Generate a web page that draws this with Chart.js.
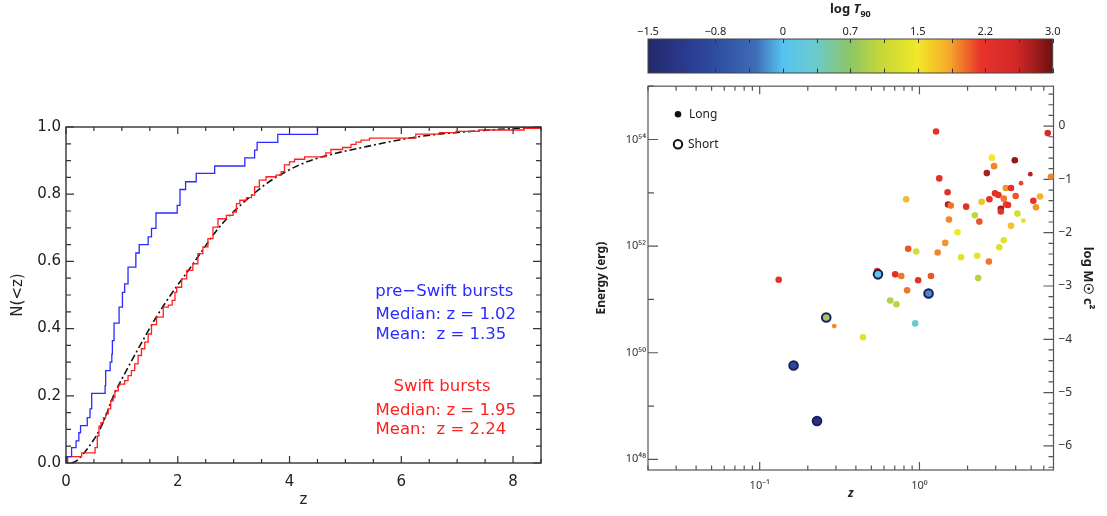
<!DOCTYPE html>
<html><head><meta charset="utf-8">
<script src="https://cdn.jsdelivr.net/npm/chart.js@4.4.1/dist/chart.umd.min.js"></script>
<style>
html,body{margin:0;padding:0;background:#fff;}
body{width:1107px;height:516px;position:relative;overflow:hidden;}
canvas{position:absolute;display:block;}
#cdf{left:0;top:0;}
#cbar{left:560px;top:0;}
#scat{left:560px;top:74px;}
</style></head><body>
<canvas id="cdf" width="560" height="516"></canvas>
<canvas id="cbar" width="547" height="78"></canvas>
<canvas id="scat" width="547" height="442"></canvas>
<script>
// ================= LEFT PANEL DATA =================
const cdfXTickValues = [0, 2, 4, 6, 8];
const cdfXTickLabels = ['0', '2', '4', '6', '8'];
const cdfYTickValues = [0, 0.2, 0.4, 0.6, 0.8, 1.0];
const cdfYTickLabels = ['0.0', '0.2', '0.4', '0.6', '0.8', '1.0'];

const preSwiftZ = [0,0.01,0.10,0.18,0.23,0.26,0.38,0.43,0.46,0.70,0.71,0.79,0.82,0.83,0.86,0.95,1.01,1.05,1.11,1.25,1.31,1.47,1.53,1.61,1.99,2.04,2.14,2.33,2.66,3.20,3.375,3.42,3.79,4.50,8.50];
const preSwiftN = [0,0.019,0.046,0.066,0.090,0.111,0.135,0.161,0.207,0.230,0.275,0.300,0.324,0.364,0.416,0.464,0.508,0.533,0.583,0.625,0.650,0.673,0.698,0.744,0.767,0.814,0.837,0.862,0.884,0.908,0.931,0.954,0.978,1.0,1.0];

const swiftZ = [0,0.03,0.28,0.52,0.56,0.59,0.625,0.67,0.71,0.755,0.80,0.845,0.875,0.935,0.96,1.05,1.11,1.17,1.23,1.29,1.35,1.41,1.47,1.53,1.62,1.74,1.83,1.90,1.95,1.98,2.07,2.16,2.27,2.36,2.45,2.54,2.63,2.72,2.87,2.99,3.05,3.11,3.23,3.32,3.375,3.46,3.58,3.76,3.85,3.91,4.00,4.09,4.27,4.65,4.74,4.95,5.10,5.19,5.28,5.43,6.26,6.68,6.98,7.39,8.20,8.50];
const swiftN = [0,0.019,0.030,0.046,0.081,0.110,0.120,0.135,0.146,0.161,0.185,0.195,0.215,0.230,0.235,0.245,0.260,0.275,0.295,0.320,0.340,0.360,0.384,0.412,0.434,0.464,0.470,0.484,0.508,0.523,0.548,0.573,0.593,0.623,0.643,0.668,0.702,0.727,0.737,0.747,0.772,0.782,0.790,0.797,0.822,0.842,0.852,0.857,0.867,0.887,0.896,0.904,0.911,0.923,0.933,0.939,0.948,0.955,0.961,0.967,0.979,0.983,0.987,0.991,0.996,0.999];

const modelZ = [0.10,0.20,0.30,0.40,0.50,0.60,0.70,0.85,1.00,1.20,1.40,1.60,1.80,2.00,2.20,2.40,2.70,3.00,3.30,3.60,3.90,4.20,4.60,5.30,6.30,7.40,8.50];
const modelN = [0.000,0.008,0.025,0.046,0.070,0.098,0.135,0.200,0.250,0.312,0.372,0.430,0.482,0.530,0.575,0.623,0.693,0.748,0.793,0.833,0.864,0.889,0.912,0.939,0.971,0.989,1.000];

const preSwiftText = ['pre\u2212Swift bursts', 'Median: z = 1.02', 'Mean:  z = 1.35'];
const swiftText = ['Swift bursts', 'Median: z = 1.95', 'Mean:  z = 2.24'];

// ================= RIGHT PANEL DATA =================
// colour bar (log T90)
const cbTickValues = [-1.5, -0.75, 0, 0.75, 1.5, 2.25, 3.0];
const cbTickLabels = ['\u22121.5', '\u22120.8', '0', '0.7', '1.5', '2.2', '3.0'];
const cmapVals = [-1.5, -1.1, -0.75, -0.3, 0, 0.35, 0.75, 1.1, 1.5, 1.85, 2.2, 2.6, 3.0];
const cmapCols = ['#25296b','#283a8f','#2f4c9f','#3e6db6','#56c4ef','#6bcad0','#8dc666','#c6d838','#f1e827','#f5a82a','#e8332a','#d22727','#6e1010'];

// long bursts: redshift, log10 energy (erg), log10 T90
const longZ = [1.27,6.35,2.84,3.95,2.93,2.64,4.94,6.65,1.33,4.32,0.826,1.50,3.47,3.74,2.97,3.12,4.00,5.68,3.37,2.74,5.16,2.45,1.51,1.57,1.96,3.48,3.58,3.23,3.23,5.36,4.10,4.47,2.22,1.53,2.37,3.74,1.73,3.37,1.45,3.16,0.85,0.954,1.30,1.82,2.30,2.72,0.544,0.705,0.769,1.18,0.981,2.33,0.837,0.656,0.718,0.94,0.443,0.293,0.1315];
const longLogE = [54.15,54.12,53.66,53.61,53.50,53.37,53.35,53.30,53.27,53.18,52.88,53.01,53.09,53.09,52.99,52.96,52.94,52.93,52.89,52.88,52.85,52.83,52.78,52.76,52.74,52.78,52.77,52.70,52.65,52.73,52.61,52.48,52.58,52.50,52.46,52.38,52.26,52.11,52.06,51.98,51.95,51.90,51.88,51.79,51.82,51.71,51.53,51.47,51.44,51.44,51.36,51.40,51.17,50.98,50.91,50.55,50.29,50.50,51.37];
const longLogT90 = [2.25,2.5,1.5,2.85,1.95,2.75,2.7,1.95,2.3,2.15,1.75,2.3,1.9,2.25,2.3,2.3,2.1,1.8,2.0,2.3,2.25,1.7,2.75,2.0,2.3,2.15,2.3,2.8,2.3,1.9,1.25,1.35,1.05,1.95,2.1,1.7,1.5,1.35,1.9,1.3,2.1,1.2,1.95,1.35,1.4,2.0,2.3,2.3,2.0,2.1,2.3,1.0,2.0,0.95,1.05,0.35,1.35,1.95,2.3];
// short bursts
const shortZ = [0.55, 1.14, 0.261, 0.163, 0.2285];
const shortLogE = [51.47, 51.11, 50.66, 49.76, 48.72];
const shortLogT90 = [0.1, -0.2, 0.85, -0.8, -1.3];

const zTickValues = [0.1, 1];
const zTickLabels = ['10\u207B\u00B9', '10\u2070'];
const energyTickExp = [48, 50, 52, 54];
const energyTickLabels = ['10\u2074\u2078', '10\u2075\u2070', '10\u2075\u00B2', '10\u2075\u2074'];
const massTickValues = [-6, -5, -4, -3, -2, -1, 0];
const massTickLabels = ['\u22126', '\u22125', '\u22124', '\u22123', '\u22122', '\u22121', '0'];
const LOG_MSUN_C2 = 54.252; // log10(M_sun c^2 / erg)

// ================= STYLE / LAYOUT (not data) =================
const smallLongIdx = [6, 9, 31, 57];
const BLUE = '#2b2bff', RED = '#ff1f1f';
const noteLayout = {
  pre:   {titleZ: 6.77, titleN: 0.510, lineZ: 5.54, lineN: [0.441, 0.381]},
  swift: {titleZ: 6.73, titleN: 0.227, lineZ: 5.54, lineN: [0.155, 0.0976]}
};

function hexToRgb(h){ return [parseInt(h.slice(1,3),16), parseInt(h.slice(3,5),16), parseInt(h.slice(5,7),16)]; }
function t90Color(t){
  t = Math.max(cmapVals[0], Math.min(cmapVals[cmapVals.length-1], t));
  for (let i = 0; i < cmapVals.length - 1; i++) {
    if (t <= cmapVals[i+1]) {
      const f = (t - cmapVals[i]) / (cmapVals[i+1] - cmapVals[i]);
      const a = hexToRgb(cmapCols[i]), b = hexToRgb(cmapCols[i+1]);
      return 'rgb(' + a.map((v,k)=>Math.round(v + (b[k]-v)*f)).join(',') + ')';
    }
  }
  return cmapCols[cmapCols.length-1];
}
function near(list, v, tol){ return list.findIndex(t => Math.abs(t - v) < tol); }

// ================= LEFT CHART =================
const cdfMinorX = []; for (let v = 0; v <= 8.5 + 1e-9; v += 0.5) cdfMinorX.push(+v.toFixed(2));
const cdfMinorY = []; for (let v = 0; v <= 1.0 + 1e-9; v += 0.05) cdfMinorY.push(+v.toFixed(2));

const cdfFrame = {
  id: 'cdfFrame',
  afterDatasetsDraw(chart){
    const {ctx, chartArea: a, scales: {x, y}} = chart;
    ctx.save();
    ctx.strokeStyle = '#333'; ctx.lineWidth = 1.4;
    ctx.strokeRect(a.left, a.top, a.right - a.left, a.bottom - a.top);
    ctx.lineWidth = 1.2; ctx.beginPath();
    x.ticks.forEach(t => {
      const px = x.getPixelForValue(t.value);
      const L = near(cdfXTickValues, t.value, 1e-6) >= 0 ? 7 : 4;
      ctx.moveTo(px, a.bottom); ctx.lineTo(px, a.bottom - L);
      ctx.moveTo(px, a.top); ctx.lineTo(px, a.top + L);
    });
    y.ticks.forEach(t => {
      const py = y.getPixelForValue(t.value);
      const L = near(cdfYTickValues, t.value, 1e-6) >= 0 ? 8 : 5;
      ctx.moveTo(a.left, py); ctx.lineTo(a.left + L, py);
      ctx.moveTo(a.right, py); ctx.lineTo(a.right - L, py);
    });
    ctx.stroke();
    // annotations
    ctx.font = '16.5px "DejaVu Sans"'; ctx.textBaseline = 'middle';
    const drawNote = (lines, lay, color) => {
      ctx.fillStyle = color;
      ctx.textAlign = 'center';
      ctx.fillText(lines[0], x.getPixelForValue(lay.titleZ), y.getPixelForValue(lay.titleN));
      ctx.textAlign = 'left';
      ctx.fillText(lines[1], x.getPixelForValue(lay.lineZ), y.getPixelForValue(lay.lineN[0]));
      ctx.fillText(lines[2], x.getPixelForValue(lay.lineZ), y.getPixelForValue(lay.lineN[1]));
    };
    drawNote(preSwiftText, noteLayout.pre, BLUE);
    drawNote(swiftText, noteLayout.swift, RED);
    ctx.restore();
  }
};

new Chart(document.getElementById('cdf'), {
  type: 'scatter',
  data: { datasets: [
    { label: 'pre-Swift bursts', data: preSwiftZ.map((z,i)=>({x:z, y:preSwiftN[i]})), showLine: true, stepped: 'before',
      borderColor: BLUE, borderWidth: 1.3, pointRadius: 0, fill: false },
    { label: 'Swift bursts', data: swiftZ.map((z,i)=>({x:z, y:swiftN[i]})), showLine: true, stepped: 'before',
      borderColor: RED, borderWidth: 1.3, pointRadius: 0, fill: false },
    { label: 'model', data: modelZ.map((z,i)=>({x:z, y:modelN[i]})), showLine: true, cubicInterpolationMode: 'monotone',
      borderColor: '#111', borderWidth: 1.6, borderDash: [7,3,2,3], pointRadius: 0, fill: false }
  ]},
  options: {
    responsive: false, animation: false,
    layout: { padding: { left: 0, top: 127, right: 19, bottom: 0 } },
    plugins: { legend: { display: false }, tooltip: { enabled: false } },
    scales: {
      x: { type: 'linear', min: 0, max: 8.5,
        grid: { display: false, drawTicks: false }, border: { display: false },
        afterBuildTicks: s => { s.ticks = cdfMinorX.map(v => ({value: v})); },
        afterFit: s => { s.height = 53; },
        ticks: { autoSkip: false, maxRotation: 0, padding: 10, color: '#222', font: { family: 'DejaVu Sans', size: 15 },
          callback: v => { const k = near(cdfXTickValues, v, 1e-6); return k >= 0 ? cdfXTickLabels[k] : ''; } },
        title: { display: true, text: 'z', color: '#222', font: { family: 'DejaVu Sans', size: 15 }, padding: { top: 0, bottom: 7 } }
      },
      y: { type: 'linear', min: 0, max: 1.0,
        grid: { display: false, drawTicks: false }, border: { display: false },
        afterBuildTicks: s => { s.ticks = cdfMinorY.map(v => ({value: v})); },
        afterFit: s => { s.width = 66; },
        ticks: { autoSkip: false, padding: 5, color: '#222', font: { family: 'DejaVu Sans', size: 15 },
          callback: v => { const k = near(cdfYTickValues, v, 1e-6); return k >= 0 ? cdfYTickLabels[k] : ''; } },
        title: { display: true, text: 'N(<z)', color: '#222', font: { family: 'DejaVu Sans', size: 15 }, padding: { top: 9, bottom: 0 } }
      }
    }
  },
  plugins: [cdfFrame]
});

// ================= COLOUR BAR =================
const cbAllTicks = [];
cbTickValues.forEach((v, i) => { cbAllTicks.push(v); if (i < cbTickValues.length - 1) cbAllTicks.push((v + cbTickValues[i+1]) / 2); });

const cbDecor = {
  id: 'cbDecor',
  afterDatasetsDraw(chart){
    const {ctx, chartArea: a, scales: {x}} = chart;
    ctx.save();
    ctx.strokeStyle = '#333'; ctx.lineWidth = 1;
    ctx.beginPath();
    cbAllTicks.forEach(v => {
      const px = Math.round(x.getPixelForValue(v)) + 0.5;
      ctx.moveTo(px, a.bottom); ctx.lineTo(px, a.bottom - 4.5);
      ctx.moveTo(px, a.top); ctx.lineTo(px, a.top + 4);
    });
    ctx.stroke();
    ctx.strokeStyle = '#444'; ctx.lineWidth = 1;
    ctx.strokeRect(a.left, a.top, a.right - a.left, a.bottom - a.top);
    // title: log T90
    const cx = (a.left + a.right) / 2, base = 13;
    ctx.fillStyle = '#222'; ctx.textBaseline = 'alphabetic'; ctx.textAlign = 'left';
    ctx.font = 'bold 13px "Noto Sans"'; const w1 = ctx.measureText('log ').width;
    ctx.font = 'italic bold 13px "Noto Sans"'; const w2 = ctx.measureText('T').width;
    ctx.font = 'bold 9px "Noto Sans"'; const w3 = ctx.measureText('90').width;
    let x0 = cx - (w1 + w2 + w3) / 2;
    ctx.font = 'bold 13px "Noto Sans"'; ctx.fillText('log ', x0, base);
    ctx.font = 'italic bold 13px "Noto Sans"'; ctx.fillText('T', x0 + w1, base);
    ctx.font = 'bold 9px "Noto Sans"'; ctx.fillText('90', x0 + w1 + w2, base + 3.5);
    ctx.restore();
  }
};

new Chart(document.getElementById('cbar'), {
  type: 'bar',
  data: { labels: ['log T90'], datasets: [{
    label: 'log T90', data: [[cbTickValues[0], cbTickValues[cbTickValues.length-1]]],
    barPercentage: 1, categoryPercentage: 1, borderWidth: 0, borderSkipped: false,
    backgroundColor: (c) => {
      const chart = c.chart; if (!chart.chartArea) return '#888';
      const xs = chart.scales.x;
      const g = chart.ctx.createLinearGradient(xs.getPixelForValue(cmapVals[0]), 0, xs.getPixelForValue(cmapVals[cmapVals.length-1]), 0);
      cmapVals.forEach((v, i) => g.addColorStop((v - cmapVals[0]) / (cmapVals[cmapVals.length-1] - cmapVals[0]), cmapCols[i]));
      return g;
    }
  }]},
  options: {
    indexAxis: 'y', responsive: false, animation: false,
    layout: { padding: { left: 88, right: 54.3, top: 0, bottom: 5 } },
    plugins: { legend: { display: false }, tooltip: { enabled: false } },
    scales: {
      x: { type: 'linear', position: 'top', min: -1.5, max: 3.0,
        grid: { display: false, drawTicks: false }, border: { display: false },
        afterBuildTicks: s => { s.ticks = cbAllTicks.map(v => ({value: v})); },
        afterFit: s => { s.height = 39; },
        ticks: { autoSkip: false, maxRotation: 0, padding: 0.5, color: '#222', font: { family: 'Noto Sans', size: 11 },
          callback: v => { const k = near(cbTickValues, v, 1e-6); return k >= 0 ? cbTickLabels[k] : ''; } }
      },
      y: { display: false }
    }
  },
  plugins: [cbDecor]
});

// ================= SCATTER =================
const zAllTicks = [];
[0.01, 0.1, 1].forEach(d => { for (let m = 1; m <= 9; m++) { const v = +(d * m).toPrecision(3); if (v >= 0.02 && v <= 6.9) zAllTicks.push(v); } });
const eAllTicks = []; for (let e = 48; e <= 55; e++) eAllTicks.push(e);
const mAllTicks = []; for (let k = -32; k <= 3; k++) mAllTicks.push(+(k * 0.2).toFixed(1));

const scatDecor = {
  id: 'scatDecor',
  beforeDatasetsDraw(chart){
    const {ctx, chartArea: a, scales: {x, y, y2}} = chart;
    ctx.save();
    ctx.strokeStyle = '#555'; ctx.lineWidth = 1.2;
    ctx.strokeRect(a.left, a.top, a.right - a.left, a.bottom - a.top);
    ctx.beginPath();
    zAllTicks.forEach(v => {
      const px = x.getPixelForValue(v);
      const L = near(zTickValues, v, 1e-6) >= 0 ? 8 : 4.5;
      ctx.moveTo(px, a.bottom); ctx.lineTo(px, a.bottom - L);
      ctx.moveTo(px, a.top); ctx.lineTo(px, a.top + L);
    });
    eAllTicks.forEach(e => {
      const py = y.getPixelForValue(Math.pow(10, e));
      const L = energyTickExp.indexOf(e) >= 0 ? 10 : 6;
      ctx.moveTo(a.left, py); ctx.lineTo(a.left + L, py);
    });
    mAllTicks.forEach(v => {
      const py = y2.getPixelForValue(v);
      if (py < a.top - 0.5 || py > a.bottom + 0.5) return;
      const L = near(massTickValues, v, 1e-6) >= 0 ? 10 : 5;
      ctx.moveTo(a.right, py); ctx.lineTo(a.right - L, py);
    });
    ctx.stroke();
    ctx.restore();
  },
  afterDatasetsDraw(chart){
    const {ctx, chartArea: a} = chart;
    const ds = chart.data.datasets;
    ctx.save();
    const lx = a.left + 30;
    ctx.fillStyle = '#111';
    ctx.beginPath(); ctx.arc(lx, a.top + 28, 3.3, 0, Math.PI * 2); ctx.fill();
    ctx.strokeStyle = '#111'; ctx.lineWidth = 2;
    ctx.beginPath(); ctx.arc(lx, a.top + 58, 4.2, 0, Math.PI * 2); ctx.stroke();
    ctx.fillStyle = '#222'; ctx.font = '12px "Noto Sans"'; ctx.textBaseline = 'middle'; ctx.textAlign = 'left';
    ctx.fillText(ds[1].label, lx + 11, a.top + 28);
    ctx.fillText(ds[0].label, lx + 10, a.top + 58);
    ctx.restore();
  }
};

new Chart(document.getElementById('scat'), {
  type: 'scatter',
  data: { datasets: [
    { label: 'Short', order: 0,
      data: shortZ.map((z,i)=>({x:z, y:Math.pow(10, shortLogE[i])})),
      backgroundColor: shortLogT90.map(t90Color), borderColor: '#1c1f5e', borderWidth: 2,
      pointRadius: 4.3, pointHoverRadius: 4.3 },
    { label: 'Long', order: 1,
      data: longZ.map((z,i)=>({x:z, y:Math.pow(10, longLogE[i])})),
      backgroundColor: longLogT90.map(t90Color), borderWidth: 0,
      pointRadius: longZ.map((z,i)=> smallLongIdx.indexOf(i) >= 0 ? 2.4 : 3.3), pointHoverRadius: 3.3 }
  ]},
  options: {
    responsive: false, animation: false,
    layout: { padding: { left: 0, top: 10, right: 0, bottom: 0 } },
    plugins: { legend: { display: false }, tooltip: { enabled: false } },
    scales: {
      x: { type: 'logarithmic', position: 'bottom', min: 0.02, max: 6.9,
        grid: { display: false, drawTicks: false }, border: { display: false },
        afterBuildTicks: s => { s.ticks = zAllTicks.map(v => ({value: v})); },
        afterFit: s => { s.height = 46; },
        ticks: { autoSkip: false, maxRotation: 0, padding: 9, color: '#333', font: { family: 'Noto Sans', size: 11 },
          callback: v => { const k = near(zTickValues, v, 1e-6); return k >= 0 ? zTickLabels[k] : ''; } },
        title: { display: true, text: 'z', color: '#222', font: { family: 'Noto Sans', size: 12, weight: 'bold', style: 'italic' }, padding: { top: 0, bottom: 14.8 } }
      },
      y: { type: 'logarithmic', position: 'left', min: Math.pow(10, 47.8), max: 1e55,
        grid: { display: false, drawTicks: false }, border: { display: false },
        afterBuildTicks: s => { s.ticks = eAllTicks.map(e => ({value: Math.pow(10, e)})); },
        afterFit: s => { s.width = 88; },
        ticks: { autoSkip: false, padding: 2, color: '#333', font: { family: 'Noto Sans', size: 11 },
          callback: v => { const k = energyTickExp.indexOf(Math.round(Math.log10(v))); return (k >= 0 && Math.abs(Math.log10(v) - energyTickExp[k]) < 1e-6) ? energyTickLabels[k] : ''; } },
        title: { display: true, text: 'Energy (erg)', color: '#222', font: { family: 'Noto Sans', size: 12, weight: 'bold' }, padding: { top: 34.8, bottom: 0 } }
      },
      y2: { type: 'linear', position: 'right', min: 47.8 - LOG_MSUN_C2, max: 55 - LOG_MSUN_C2,
        grid: { display: false, drawTicks: false }, border: { display: false },
        afterBuildTicks: s => { s.ticks = massTickValues.map(v => ({value: v})); },
        afterFit: s => { s.width = 53.5; },
        ticks: { autoSkip: false, padding: 5, color: '#333', font: { family: 'Noto Sans', size: 12 },
          callback: v => { const k = near(massTickValues, v, 1e-6); return k >= 0 ? massTickLabels[k] : ''; } },
        title: { display: true, text: 'log M\u2609 c\u00B2', color: '#222', font: { family: 'Noto Sans', size: 13, weight: 'bold' }, padding: { top: 11, bottom: 0 } }
      }
    }
  },
  plugins: [scatDecor]
});
</script>
</body></html>
